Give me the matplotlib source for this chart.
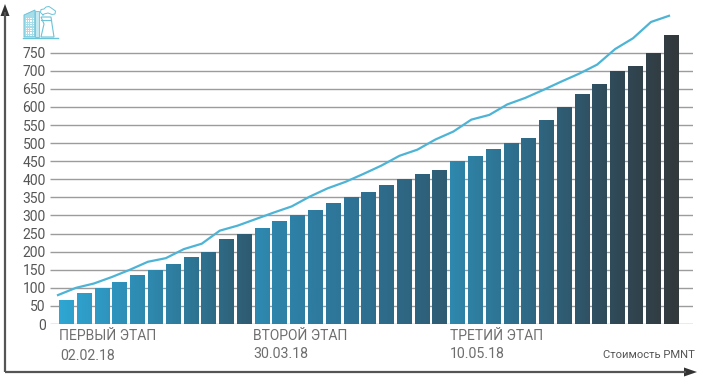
# Stepwise PMNT price chart: bars per stage with a gradient, plus a line above them
import numpy as np
import matplotlib
matplotlib.use('Agg')
import matplotlib.pyplot as plt
from matplotlib.colors import LinearSegmentedColormap
from matplotlib.patches import Rectangle, Polygon

plt.rcParams['font.family'] = ['Roboto', 'DejaVu Sans']

# Values
bar_values = [65, 85, 100, 115, 135, 150, 165, 185, 200, 235, 250,
              265, 285, 300, 315, 335, 350, 365, 385, 400, 415, 425,
              450, 465, 485, 500, 515, 565, 600, 635, 663, 700, 713, 750, 800]
line_values = [80, 100, 112, 130, 150, 172, 182, 207, 222, 258, 272,
               290, 308, 325, 352, 375, 393, 415, 438, 465, 482, 510,
               532, 565, 578, 607, 625, 647, 670, 692, 717, 760, 790, 835, 852]
y_ticks = list(range(0, 751, 50))
stage_names = ['ПЕРВЫЙ ЭТАП', 'ВТОРОЙ ЭТАП', 'ТРЕТИЙ ЭТАП']
stage_dates = ['02.02.18', '30.03.18', '10.05.18']
stage_sizes = [11, 11, 13]

W, H = 713, 387
TEXT = '#555555'
AXIS = '#555555'


def px_box(x0, x1, y_top, y_bottom):
    return [x0 / W, 1 - y_bottom / H, (x1 - x0) / W, (y_bottom - y_top) / H]


fig = plt.figure(figsize=(W / 100, H / 100), dpi=100, facecolor='white')

# Plot area: grid runs from x=50 to x=693, zero at y=324, 750 at y=52.7
px_per_unit = (324 - 52.7) / 750
ax = fig.add_axes(px_box(50, 693, 4, 324))
for s in ax.spines.values():
    s.set_visible(False)
ax.patch.set_alpha(0)

ax.hlines(y_ticks, -0.911, 35.25, color='#9c9c9c', lw=1.0, zorder=1)

stage_cmaps = [
    LinearSegmentedColormap.from_list('s1', ['#2fa6d4', '#2e86ab', '#2f5a70']),
    LinearSegmentedColormap.from_list('s2', ['#2e89b0', '#2e7396', '#2f5c73']),
    LinearSegmentedColormap.from_list('s3', ['#2e88ae', '#2f6a87', '#2f4d5d', '#33383b']),
]

# Bars, with the stage gradient clipped to each one
bar_w = 0.805
bars = ax.bar(range(len(bar_values)), bar_values, width=bar_w, color='none', zorder=2)
start = 0
for size, cmap in zip(stage_sizes, stage_cmaps):
    for i in range(start, start + size):
        t0 = (i - start) / size
        t1 = (i - start + 1) / size
        grad = np.linspace(t0, t1, 16).reshape(1, -1)
        im = ax.imshow(grad, extent=[i - bar_w / 2, i + bar_w / 2, 0, bar_values[i]],
                       aspect='auto', cmap=cmap, vmin=0, vmax=1, zorder=2)
        im.set_clip_path(bars[i])
    start += size

# Line sits on its own spacing, slightly wider than the bars
line_pos = np.linspace(-0.46, 33.9, len(line_values))
ax.plot(line_pos, line_values, color='#4db4d6', lw=1.6, zorder=3, solid_joinstyle='round')

ax.set_xlim(-0.911, 35.25)
ax.set_ylim(0, (324 - 4) / px_per_unit)
ax.set_xticks([])
ax.set_yticks(y_ticks)
ax.tick_params(axis='y', length=0, pad=3, labelsize=10, labelcolor=TEXT)

# Overlay in pixel coordinates for arrows, captions and the icon
ov = fig.add_axes([0, 0, 1, 1], zorder=5)
ov.set_xlim(0, W)
ov.set_ylim(H, 0)
ov.axis('off')

ov.plot([5, 5], [372, 12], color=AXIS, lw=1.6, solid_capstyle='butt')
ov.plot([5, 686], [372, 372], color=AXIS, lw=1.6, solid_capstyle='butt')
ov.add_patch(Polygon([[5, 4], [0.5, 16], [9.5, 16]], color='#333333', lw=0))
ov.add_patch(Polygon([[697, 372], [684, 367.5], [684, 376.5]], color='#333333', lw=0))

stage_x = [59, 253, 450]
date_x = [60, 253, 450]
date_y = [356, 354, 354]
for x, dx, dy, name, date in zip(stage_x, date_x, date_y, stage_names, stage_dates):
    ov.text(x, 336, name, fontsize=10, color='#6e6e6e', va='center', ha='left')
    ov.text(dx, dy, date, fontsize=10.2, color='#6e6e6e', va='center', ha='left')
ov.text(695, 355.5, 'Стоимость PMNT', fontsize=8.1, color=TEXT, va='center', ha='right')

# Factory icon
ICON = '#6cc3d8'
ov.add_patch(Polygon([[24, 37], [24, 15], [35, 10], [35, 37]], fc='#a6dde9', ec=ICON, lw=0.7))
ov.add_patch(Polygon([[35, 37], [35, 11], [39, 11], [39, 37]], fc='#c4e9f1', ec=ICON, lw=0.6))
for wx in np.arange(26, 34, 2.2):
    for wy in np.arange(18, 35, 2.4):
        ov.add_patch(Rectangle((wx, wy), 1.2, 1.3, fc='white', ec='none'))
ov.add_patch(Polygon([[41, 37], [44, 24], [41, 17], [51, 17], [52, 24], [54, 37]],
                     fc='white', ec=ICON, lw=0.8))
ov.plot([23, 58], [38, 38], color=ICON, lw=1.0)
ov.plot([41, 51], [20, 20], color=ICON, lw=0.8)
# Cloud outline over the tower
cloud_x = [43, 40.5, 41, 44, 46, 49, 52, 55.5, 55, 52, 48, 44, 43]
cloud_y = [15, 12.5, 9.5, 9, 7, 6.5, 8.5, 11, 14, 14.5, 13, 14, 15]
ov.plot(cloud_x, cloud_y, color=ICON, lw=0.7)

fig.savefig('out.png', dpi=100, facecolor='white')
